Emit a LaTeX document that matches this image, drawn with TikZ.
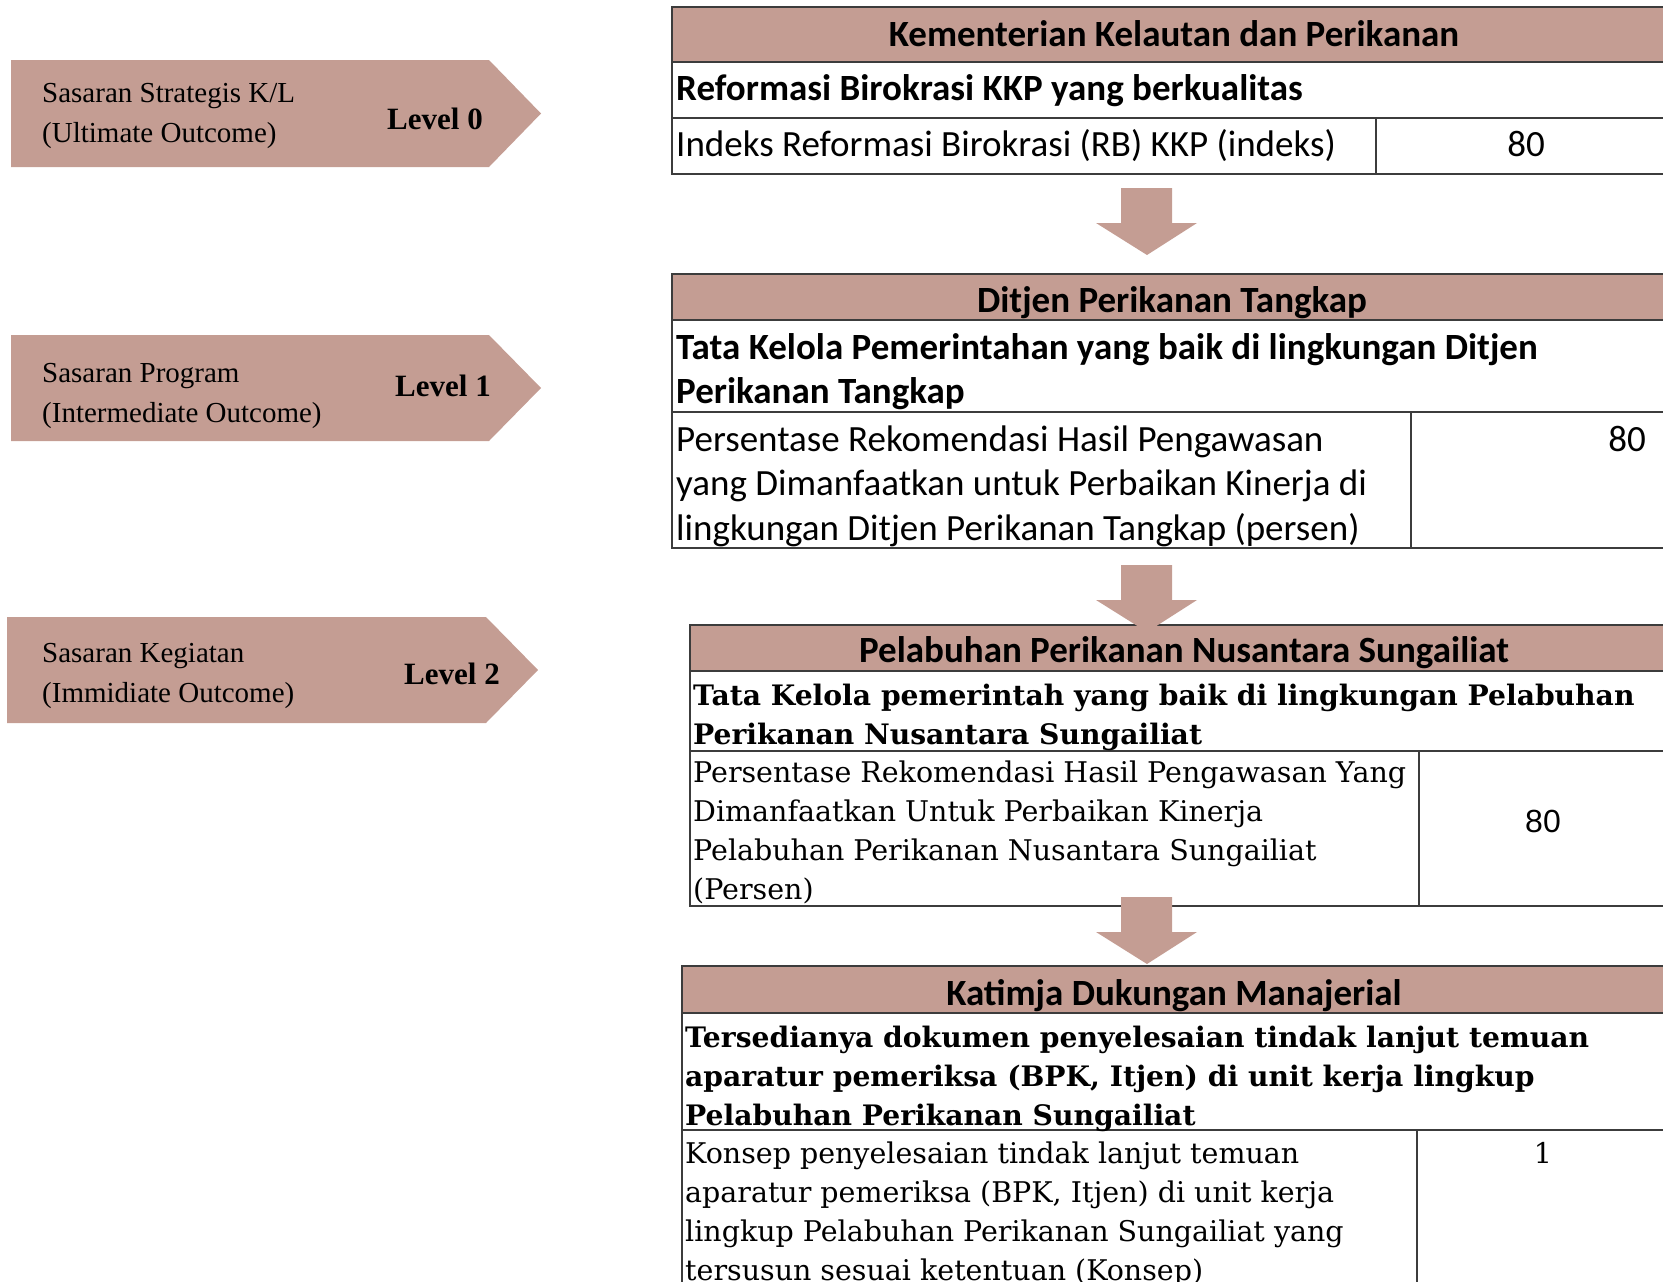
\documentclass[tikz,border=0pt]{standalone}
\usepackage{fontspec}
\setmainfont{Liberation Serif}
\newfontfamily\calibri{Carlito}
\newfontfamily\slabfont{DejaVu Serif}
\newfontfamily\arialfont{Liberation Sans}
\definecolor{rose}{RGB}{196,157,147}
\definecolor{rulegray}{RGB}{60,60,60}
\def\blockarrow(#1){\fill[rose] (1121,#1) -- (1172,#1) -- (1172,#1+35) -- (1197,#1+35) -- (1147,#1+67) -- (1096,#1+35) -- (1121,#1+35) -- cycle;}

\begin{document}
\begin{tikzpicture}[x=1pt,y=-1pt,
	headcell/.style={fill=rose,draw=rulegray,line width=1.5pt},
	cell/.style={draw=rulegray,line width=1.5pt},
	armtext/.style={anchor=north west,inner sep=0,align=left,font=\fontsize{29}{40}\selectfont},
	lvltext/.style={anchor=base west,inner sep=0,font=\fontsize{31}{37}\selectfont\bfseries},
	headtext/.style={anchor=base,inner sep=0,font=\calibri\fontsize{37}{44}\selectfont\bfseries},
	caltext/.style={anchor=north west,inner sep=0,align=left,font=\calibri\fontsize{37}{44.5}\selectfont},
	caltextb/.style={caltext,font=\calibri\fontsize{37}{44}\selectfont\bfseries},
	slabtext/.style={anchor=north west,inner sep=0,align=left,font=\slabfont\fontsize{28.5}{39}\selectfont},
	slabtextb/.style={slabtext,font=\slabfont\fontsize{28.2}{39}\selectfont\bfseries}]
	%%%%% START %%%%%
	\useasboundingbox (0,0) rectangle (1663,1282);
	\clip (0,0) rectangle (1663,1282);
	
	% level arrows on the left
	\fill[rose] (11,60) -- (489,60) -- (541,113.5) -- (489,167) -- (11,167) -- cycle;
	\node[armtext] (sasaran0) at (42,74) {\strut Sasaran Strategis K/L\\(Ultimate Outcome)};
	\node[lvltext] (level0) at (387,129) {Level 0};
	
	\fill[rose] (11,335) -- (489,335) -- (541,388) -- (489,441) -- (11,441) -- cycle;
	\node[armtext] (sasaran1) at (42,354) {\strut Sasaran Program\\(Intermediate Outcome)};
	\node[lvltext] (level1) at (395,396) {Level 1};
	
	\fill[rose] (7,617) -- (486,617) -- (538,670) -- (486,723) -- (7,723) -- cycle;
	\node[armtext] (sasaran2) at (42,634) {\strut Sasaran Kegiatan\\(Immidiate Outcome)};
	\node[lvltext] (level2) at (404,684) {Level 2};
	
	% table 1
	\draw[headcell] (672,7) rectangle (1677,62);
	\draw[cell] (672,62) rectangle (1677,118);
	\draw[cell] (672,118) rectangle (1677,174);
	\draw[cell] (1376,118) -- (1376,174);
	\node[headtext] (kkphead) at (1174,46) {Kementerian Kelautan dan Perikanan};
	\node[caltextb] (kkpgoal) at (676,69.2) {\strut Reformasi Birokrasi KKP yang berkualitas};
	\node[caltext] (kkpind) at (676,124.9) {\strut Indeks Reformasi Birokrasi (RB) KKP (indeks)};
	\node[anchor=base,inner sep=0,font=\calibri\fontsize{37}{44}\selectfont] (kkpval) at (1526,156) {80};
	
	% table 2
	\draw[headcell] (672,274) rectangle (1677,320);
	\draw[cell] (672,320) rectangle (1677,412);
	\draw[cell] (672,412) rectangle (1677,548);
	\draw[cell] (1411,412) -- (1411,548);
	\node[headtext] (djpthead) at (1172,312) {Ditjen Perikanan Tangkap};
	\node[caltextb] (djptgoal) at (676,328.2) {\strut Tata Kelola Pemerintahan yang baik di lingkungan Ditjen\\Perikanan Tangkap};
	\node[caltext] (djptind) at (676,419.9) {\strut Persentase Rekomendasi Hasil Pengawasan\\yang Dimanfaatkan untuk Perbaikan Kinerja di\\lingkungan Ditjen Perikanan Tangkap (persen)};
	\node[anchor=base east,inner sep=0,font=\calibri\fontsize{37}{44}\selectfont] (djptval) at (1646,451) {80};
	
	% table 3
	\draw[headcell] (690,625) rectangle (1677,671);
	\draw[cell] (690,671) rectangle (1677,751);
	\draw[cell] (690,751) rectangle (1677,906);
	\draw[cell] (1419,751) -- (1419,906);
	\node[headtext] (ppnshead) at (1184,662) {Pelabuhan Perikanan Nusantara Sungailiat};
	\node[slabtextb] (ppnsgoal) at (693,677.7) {\strut Tata Kelola pemerintah yang baik di lingkungan Pelabuhan\\Perikanan Nusantara Sungailiat};
	\node[slabtext] (ppnsind) at (693,754.7) {\strut Persentase Rekomendasi Hasil Pengawasan Yang\\Dimanfaatkan Untuk Perbaikan Kinerja\\Pelabuhan Perikanan Nusantara Sungailiat\\(Persen)};
	\node[anchor=base,inner sep=0,font=\arialfont\fontsize{32}{38}\selectfont] (ppnsval) at (1543,832) {80};
	
	% table 4
	\draw[headcell] (682,966) rectangle (1677,1013);
	\draw[cell] (682,1013) rectangle (1677,1130);
	\draw[cell] (682,1130) rectangle (1677,1300);
	\draw[cell] (1417,1130) -- (1417,1300);
	\node[headtext] (dmhead) at (1174,1005) {Katimja Dukungan Manajerial};
	\node[slabtextb] (dmgoal) at (685,1019.7) {\strut Tersedianya dokumen penyelesaian tindak lanjut temuan\\aparatur pemeriksa (BPK, Itjen) di unit kerja lingkup\\Pelabuhan Perikanan Sungailiat};
	\node[slabtext] (dmind) at (685,1135.7) {\strut Konsep penyelesaian tindak lanjut temuan\\aparatur pemeriksa (BPK, Itjen) di unit kerja\\lingkup Pelabuhan Perikanan Sungailiat yang\\tersusun sesuai ketentuan (Konsep)};
	\node[anchor=base,inner sep=0,font=\slabfont\fontsize{28.5}{39}\selectfont] (dmval) at (1543,1163) {1};
	
	% down arrows between the tables
	\blockarrow(188)
	\blockarrow(565)
	\blockarrow(897)
	
	%%%%% END %%%%%
\end{tikzpicture}
\end{document}
